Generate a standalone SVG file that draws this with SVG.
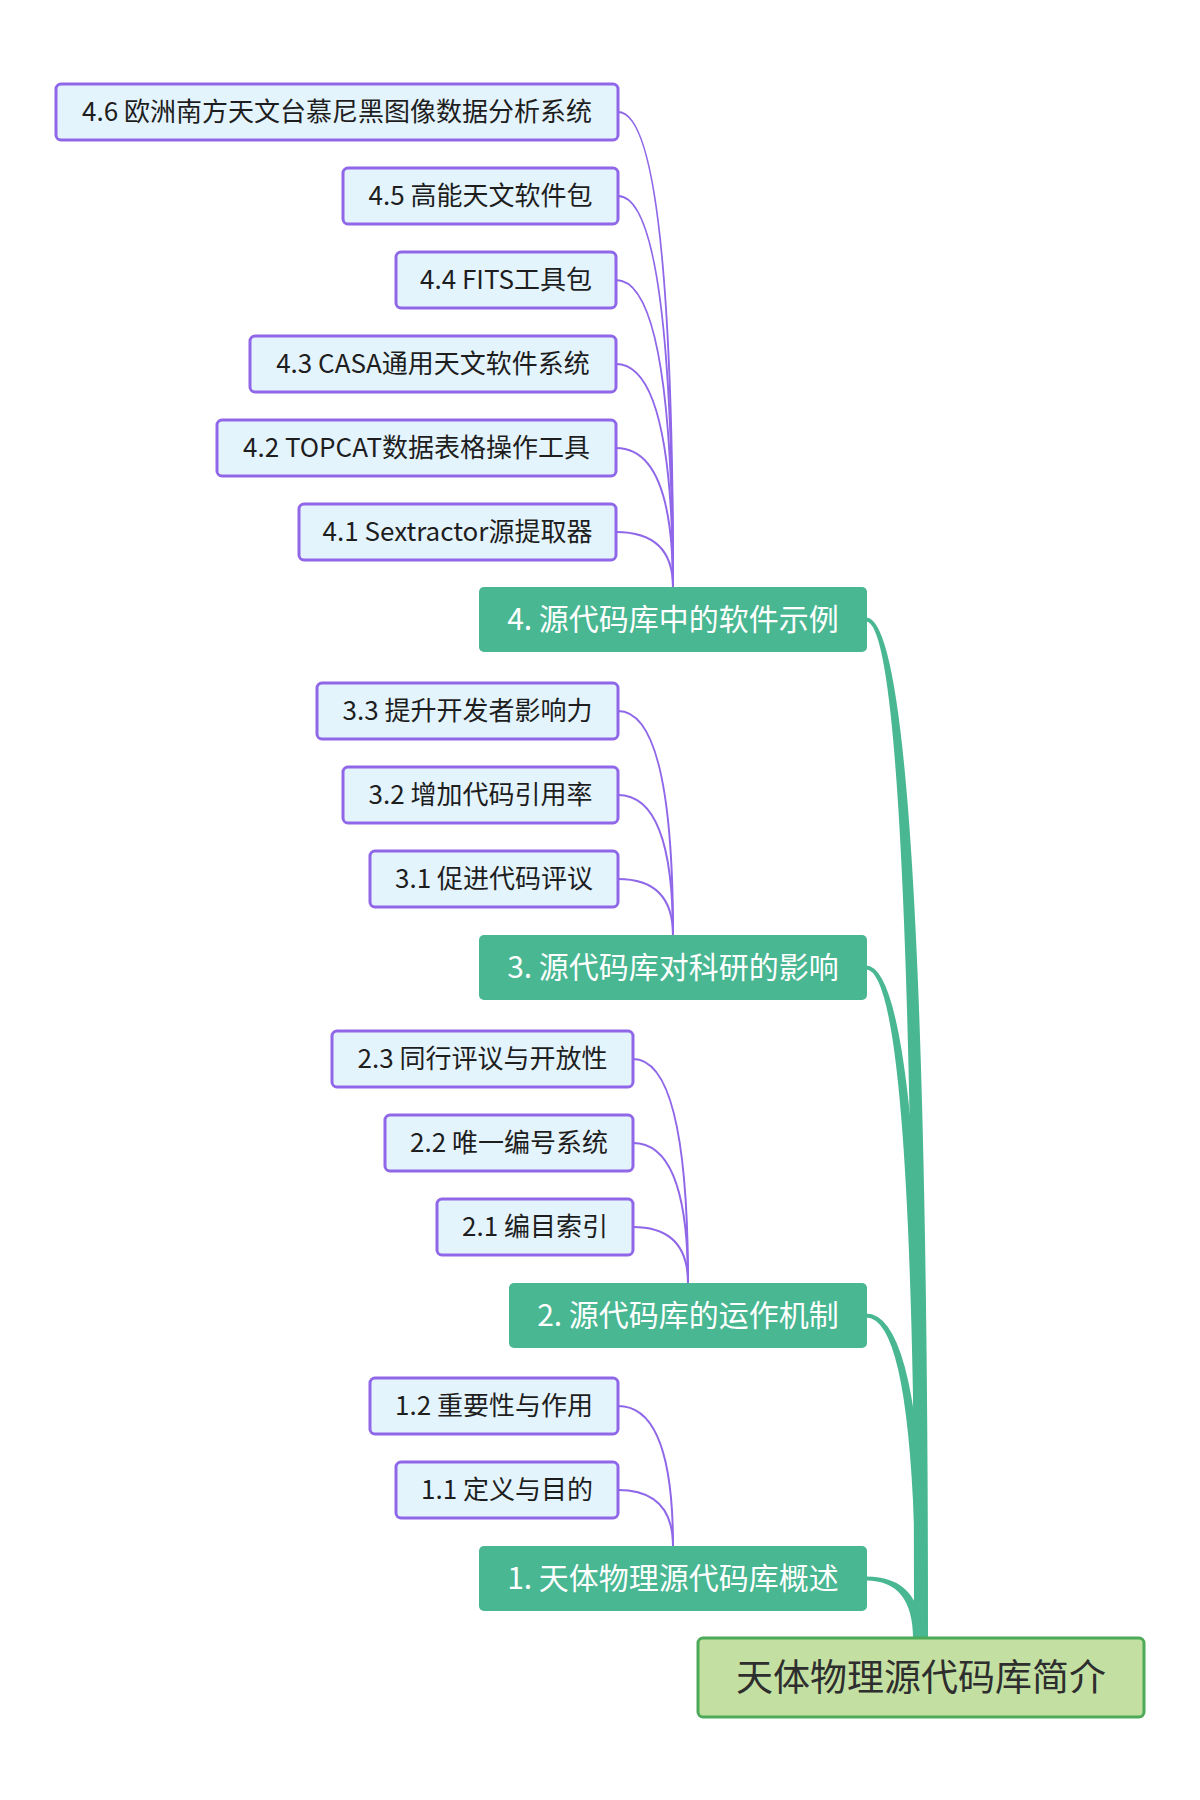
<svg xmlns="http://www.w3.org/2000/svg" width="1200" height="1800" viewBox="0 0 1200 1800">
<style>
.leaf rect{fill:#e4f4fd;stroke:#8f67e8;stroke-width:3}
.leaf text{font-family:"Noto Sans CJK SC","Noto Sans",sans-serif;font-size:26px;font-weight:400;fill:#1e1e1e;text-anchor:middle}
.sec rect{fill:#48b792}
.sec text{font-family:"Noto Sans CJK SC","Noto Sans",sans-serif;font-size:30px;font-weight:400;fill:#ffffff;text-anchor:middle}
.root rect{fill:#c3e0a2;stroke:#4caa59;stroke-width:3}
.root text{font-family:"Noto Sans CJK SC","Noto Sans",sans-serif;font-size:37px;font-weight:400;fill:#2e2e2e;text-anchor:middle}
.pc{fill:none;stroke:#8f67e8;stroke-width:2}
.gc{fill:#48b792}
</style>
<rect width="1200" height="1800" fill="#ffffff"/>
<g id="connectors">
<path class="pc" d="M618,112 Q673,112 673,587"/>
<path class="pc" d="M618,196 Q673,196 673,587"/>
<path class="pc" d="M616,280 Q673,280 673,587"/>
<path class="pc" d="M616,364 Q673,364 673,587"/>
<path class="pc" d="M616,448 Q673,448 673,587"/>
<path class="pc" d="M616,532 Q673,532 673,587"/>
<path class="pc" d="M618,711 Q673,711 673,935"/>
<path class="pc" d="M618,795 Q673,795 673,935"/>
<path class="pc" d="M618,879 Q673,879 673,935"/>
<path class="pc" d="M633,1059 Q688,1059 688,1283"/>
<path class="pc" d="M633,1143 Q688,1143 688,1283"/>
<path class="pc" d="M633,1227 Q688,1227 688,1283"/>
<path class="pc" d="M618,1406 Q673,1406 673,1546"/>
<path class="pc" d="M618,1490 Q673,1490 673,1546"/>
<path class="gc" d="M866,617.5 Q928,617.5 928,1639 L914,1639 Q914,621.5 866,621.5 Z"/>
<path class="gc" d="M866,965.5 Q927,965.5 927,1639 L915,1639 Q915,969.5 866,969.5 Z"/>
<path class="gc" d="M866,1313.5 Q926,1313.5 926,1639 L916,1639 Q916,1317.5 866,1317.5 Z"/>
<path class="gc" d="M866,1576.5 Q922,1576.5 922,1639 L913,1639 Q913,1580.5 866,1580.5 Z"/>
</g>
<g id="n46" class="leaf"><rect x="56" y="84" width="562" height="56" rx="5"/><text x="337" y="121">4.6 欧洲南方天文台慕尼黑图像数据分析系统</text></g>
<g id="n45" class="leaf"><rect x="343" y="168" width="275" height="56" rx="5"/><text x="480.5" y="205">4.5 高能天文软件包</text></g>
<g id="n44" class="leaf"><rect x="396" y="252" width="220" height="56" rx="5"/><text x="506" y="289">4.4 FITS工具包</text></g>
<g id="n43" class="leaf"><rect x="250" y="336" width="366" height="56" rx="5"/><text x="433" y="373">4.3 CASA通用天文软件系统</text></g>
<g id="n42" class="leaf"><rect x="217" y="420" width="399" height="56" rx="5"/><text x="416.5" y="457">4.2 TOPCAT数据表格操作工具</text></g>
<g id="n41" class="leaf"><rect x="299" y="504" width="317" height="56" rx="5"/><text x="457.5" y="541">4.1 Sextractor源提取器</text></g>
<g id="n4" class="sec"><rect x="479" y="587" width="388" height="65" rx="5"/><text x="673" y="630">4. 源代码库中的软件示例</text></g>
<g id="n33" class="leaf"><rect x="317" y="683" width="301" height="56" rx="5"/><text x="467.5" y="720">3.3 提升开发者影响力</text></g>
<g id="n32" class="leaf"><rect x="343" y="767" width="275" height="56" rx="5"/><text x="480.5" y="804">3.2 增加代码引用率</text></g>
<g id="n31" class="leaf"><rect x="370" y="851" width="248" height="56" rx="5"/><text x="494" y="888">3.1 促进代码评议</text></g>
<g id="n3" class="sec"><rect x="479" y="935" width="388" height="65" rx="5"/><text x="673" y="978">3. 源代码库对科研的影响</text></g>
<g id="n23" class="leaf"><rect x="332" y="1031" width="301" height="56" rx="5"/><text x="482.5" y="1068">2.3 同行评议与开放性</text></g>
<g id="n22" class="leaf"><rect x="385" y="1115" width="248" height="56" rx="5"/><text x="509" y="1152">2.2 唯一编号系统</text></g>
<g id="n21" class="leaf"><rect x="437" y="1199" width="196" height="56" rx="5"/><text x="535" y="1236">2.1 编目索引</text></g>
<g id="n2" class="sec"><rect x="509" y="1283" width="358" height="65" rx="5"/><text x="688" y="1326">2. 源代码库的运作机制</text></g>
<g id="n12" class="leaf"><rect x="370" y="1378" width="248" height="56" rx="5"/><text x="494" y="1415">1.2 重要性与作用</text></g>
<g id="n11" class="leaf"><rect x="396" y="1462" width="222" height="56" rx="5"/><text x="507" y="1499">1.1 定义与目的</text></g>
<g id="n1" class="sec"><rect x="479" y="1546" width="388" height="65" rx="5"/><text x="673" y="1589">1. 天体物理源代码库概述</text></g>
<g id="root" class="root"><rect x="698" y="1638" width="446" height="79" rx="5"/><text x="921" y="1691">天体物理源代码库简介</text></g>
</svg>
